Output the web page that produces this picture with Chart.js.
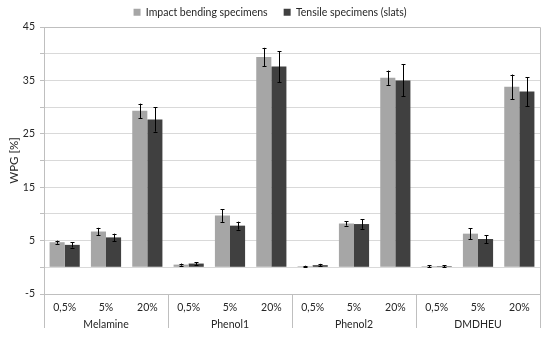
<!DOCTYPE html>
<html>
<head>
<meta charset="utf-8">
<script src="https://cdn.jsdelivr.net/npm/chart.js@4/dist/chart.umd.min.js"></script>
<style>
html,body{margin:0;padding:0;background:#fff;}
#wrap{width:550px;height:342px;position:relative;}
</style>
</head>
<body>
<div id="wrap"><canvas id="c" width="550" height="342"></canvas></div>
<script>
const categories = ['0,5%','5%','20%','0,5%','5%','20%','0,5%','5%','20%','0,5%','5%','20%'];
const groups = ['Melamine','Phenol1','Phenol2','DMDHEU'];
const seriesNames = ['Impact bending specimens','Tensile specimens (slats)'];
const impact = [4.7, 6.7, 29.3, 0.5, 9.7, 39.4, 0.2, 8.2, 35.5, 0.2, 6.3, 33.8];
const impactErr = [0.3, 0.7, 1.35, 0.2, 1.2, 1.7, 0.1, 0.4, 1.35, 0.15, 1.05, 2.3];
const tensile = [4.2, 5.6, 27.7, 0.7, 7.8, 37.6, 0.4, 8.1, 35.0, 0.2, 5.3, 32.9];
const tensileErr = [0.5, 0.7, 2.3, 0.25, 0.75, 2.9, 0.25, 0.9, 3.0, 0.2, 0.75, 2.7];
const yTickLabels = [45, 35, 25, 15, 5, -5];

const FONT = "Lato, sans-serif";
const LINE = '#bfbfbf';
const TXT = '#262626';

// tick labels: sublabel, and group name under the middle category of each group
const xLabels = categories.map((c, i) => (i % 3 === 1) ? [c, groups[Math.floor(i / 3)]] : [c, '']);

const legendFit = {
  id: 'legendFit',
  afterInit(chart) {
    const lg = chart.legend;
    if (!lg) return;
    const f = lg.fit.bind(lg);
    lg.fit = function () { f(); this.height = 36; };
  }
};

const errorBars = {
  id: 'errorBars',
  afterDatasetsDraw(chart) {
    const ctx = chart.ctx;
    const y = chart.scales.y;
    const errs = [impactErr, tensileErr];
    ctx.save();
    ctx.strokeStyle = '#000';
    ctx.lineWidth = 1;
    chart.data.datasets.forEach((ds, di) => {
      const meta = chart.getDatasetMeta(di);
      meta.data.forEach((bar, i) => {
        const v = ds.data[i], e = errs[di][i];
        const x = Math.round(bar.x) + 0.5;
        const yt = y.getPixelForValue(v + e), yb = y.getPixelForValue(v - e);
        ctx.beginPath();
        ctx.moveTo(x, yt); ctx.lineTo(x, yb);
        ctx.moveTo(x - 2, Math.round(yt) + 0.5); ctx.lineTo(x + 2, Math.round(yt) + 0.5);
        ctx.moveTo(x - 2, Math.round(yb) + 0.5); ctx.lineTo(x + 2, Math.round(yb) + 0.5);
        ctx.stroke();
      });
    });
    ctx.restore();
  },
  afterDraw(chart) {
    const ctx = chart.ctx;
    const a = chart.chartArea;
    ctx.save();
    ctx.strokeStyle = LINE;
    ctx.lineWidth = 1;
    ctx.beginPath();
    ctx.moveTo(Math.round(a.left) + 0.5, Math.round(a.top) + 0.5);
    ctx.lineTo(Math.round(a.right) + 0.5, Math.round(a.top) + 0.5);
    ctx.lineTo(Math.round(a.right) + 0.5, Math.round(a.bottom) + 0.5);
    const n = categories.length;
    const w = (a.right - a.left) / n;
    for (let k = 0; k <= n; k += 3) {
      const x = Math.round(a.left + k * w) + 0.5;
      ctx.moveTo(x, a.bottom);
      ctx.lineTo(x, a.bottom + 34);
    }
    ctx.stroke();
    ctx.restore();
  }
};

new Chart(document.getElementById('c'), {
  type: 'bar',
  data: {
    labels: xLabels,
    datasets: [
      { label: seriesNames[0], data: impact, backgroundColor: '#a6a6a6', borderWidth: 0,
        categoryPercentage: 0.73, barPercentage: 1 },
      { label: seriesNames[1], data: tensile, backgroundColor: '#404040', borderWidth: 0,
        categoryPercentage: 0.73, barPercentage: 1 }
    ]
  },
  options: {
    responsive: false,
    animation: false,
    devicePixelRatio: 1,
    layout: { padding: { left: 0, right: 10, top: -9, bottom: 0 } },
    plugins: {
      legend: {
        position: 'top',
        labels: { boxWidth: 7, boxHeight: 7, padding: 16, color: TXT, font: { family: FONT, size: 10.5 } }
      },
      tooltip: { enabled: false }
    },
    scales: {
      x: {
        grid: { display: false, drawTicks: false },
        border: { color: LINE },
        ticks: { color: TXT, font: { family: FONT, size: 10.5, lineHeight: 1.6 }, padding: 5, maxRotation: 0, autoSkip: false },
        afterFit(s) { s.height = 48; }
      },
      y: {
        min: -5, max: 45,
        afterBuildTicks(s) {
          const t = [];
          for (let v = -5; v <= 45; v += 5) t.push({ value: v });
          s.ticks = t;
        },
        ticks: {
          color: TXT, font: { family: FONT, size: 10.5 }, padding: 5,
          callback: (v) => yTickLabels.includes(v) ? String(v) : ''
        },
        grid: { color: '#d9d9d9', tickLength: 4, tickColor: LINE },
        border: { color: LINE },
        title: { display: true, text: 'WPG [%]', color: TXT, font: { family: FONT, size: 11.5 }, padding: { top: 7, bottom: 0 } },
        afterFit(s) { s.width = 44; }
      }
    }
  },
  plugins: [legendFit, errorBars]
});
</script>
</body>
</html>
